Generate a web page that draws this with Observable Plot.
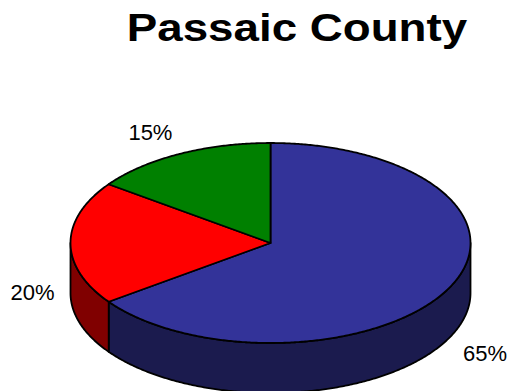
<!DOCTYPE html>
<html><head><meta charset="utf-8">
<script src="https://cdn.jsdelivr.net/npm/d3@7"></script>
<script src="https://cdn.jsdelivr.net/npm/@observablehq/plot@0.6"></script>
<style>
body{margin:0;background:#fff;width:508px;height:391px;overflow:hidden;font-family:"Liberation Sans",Arial,sans-serif}
#title{position:relative;height:70px;width:508px}
#title span{position:absolute;left:0;top:8px;width:508px;text-align:center;font-weight:bold;font-size:39px;line-height:1;transform:translateX(43px) scaleX(1.172);white-space:nowrap;color:#000}
#chart svg{display:block}
</style></head><body>
<div id="title"><span>Passaic County</span></div>
<div id="chart"></div>
<script>
const categories = ["Slice 1", "Slice 2", "Slice 3"];
const values = [65, 20, 15];
const labels = ["65%", "20%", "15%"];

const topColors = ["#333399", "#FF0000", "#008000"];
const sideColors = ["#1b1b4e", "#800000", "#004000"];
const DEPTH = 0.5;      // extrusion in y units (ry = 1)
const GAP = 16;         // label gap in px

const total = d3.sum(values);
const rad = d => d * Math.PI / 180;
function arc(a, b, off = 0) {
  const pts = [];
  const n = Math.max(2, Math.ceil(Math.abs(b - a) / 0.5));
  for (let i = 0; i <= n; i++) {
    const t = rad(a + (b - a) * i / n);
    pts.push([Math.sin(t), Math.cos(t) - off]);
  }
  return pts;
}
let acc = 0;
const slices = values.map((v, i) => {
  const a = acc / total * 360; acc += v;
  const b = acc / total * 360;
  return {i, a, b, mid: (a + b) / 2};
});
const tops = slices.map(s => ({i: s.i, pts: [[0, 0], ...arc(s.a, s.b), [0, 0]]}));
const sides = slices.flatMap(s => {
  const a = Math.max(s.a, 90), b = Math.min(s.b, 270);
  if (b <= a) return [];
  const top = arc(a, b), bot = arc(b, a, DEPTH);
  return [{i: s.i, pts: [...top, ...bot, top[0]]}];
});

const marks = [];
for (const p of sides) {
  marks.push(Plot.line(p.pts, {x: d => d[0], y: d => d[1], fill: sideColors[p.i], stroke: "black", strokeWidth: 1.8, strokeLinejoin: "round"}));
}
for (const p of tops) {
  marks.push(Plot.line(p.pts, {x: d => d[0], y: d => d[1], fill: topColors[p.i], stroke: "black", strokeWidth: 1.8, strokeLinejoin: "round"}));
}
for (const s of slices) {
  const t = rad(s.mid), sn = Math.sin(t), cs = Math.cos(t);
  let x = sn + GAP * sn / 200;
  let y = cs + GAP * cs / 100;
  if (cs < 0.01) y -= DEPTH;
  const textAnchor = sn < -0.1 ? "end" : sn > 0.1 ? "start" : "middle";
  const lineAnchor = cs > 0.3 ? "bottom" : cs < -0.3 ? "top" : "middle";
  marks.push(Plot.text([labels[s.i]], {x: () => x, y: () => y, text: d => d, textAnchor, lineAnchor, fontSize: 22, fontFamily: "Liberation Sans, Arial, sans-serif", fill: "black"}));
}

const chart = Plot.plot({
  width: 508, height: 321,
  margin: 0,
  x: {domain: [-1, 1], range: [70, 470], axis: null},
  y: {domain: [-1, 1], range: [272.5, 72.5], axis: null},
  marks
});
document.getElementById("chart").append(chart);
</script>
</body></html>
